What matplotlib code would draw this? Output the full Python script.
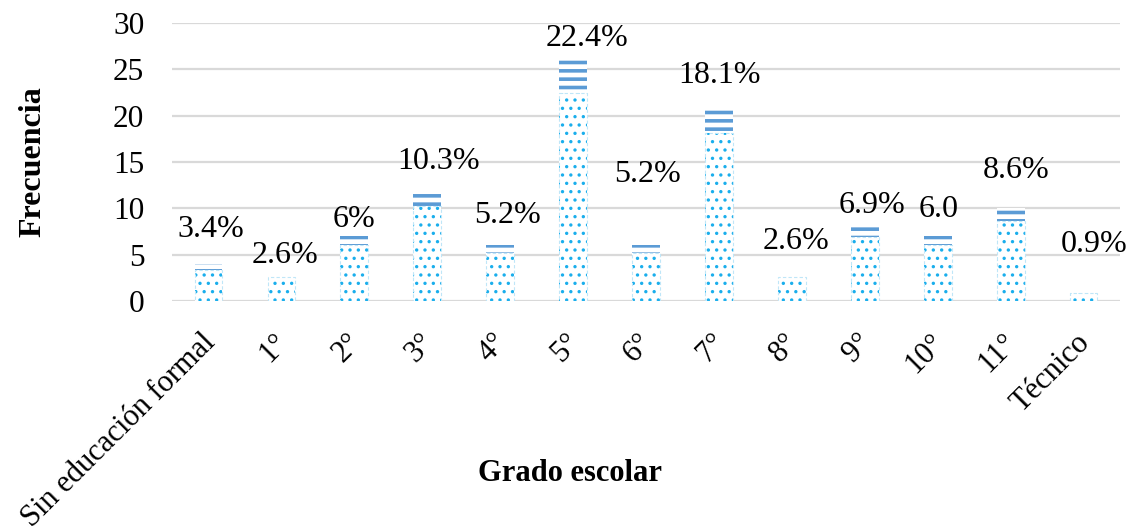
import matplotlib
matplotlib.use("Agg")
import matplotlib.pyplot as plt
import matplotlib.transforms as mtransforms
import numpy as np

# Data: school grade distribution (n = 116)
grados = ["Sin educación formal", "1°", "2°", "3°", "4°", "5°", "6°",
          "7°", "8°", "9°", "10°", "11°", "Técnico"]
frecuencia = [4, 3, 7, 12, 6, 26, 6, 21, 3, 8, 7, 10, 1]
porcentaje = [3.4, 2.6, 6.0, 10.3, 5.2, 22.4, 5.2, 18.1, 2.6, 6.9, 6.0, 8.6, 0.9]
etiquetas = ["3.4%", "2.6%", "6%", "10.3%", "5.2%", "22.4%", "5.2%",
             "18.1%", "2.6%", "6.9%", "6.0", "8.6%", "0.9%"]

# where each percentage label sits (baseline, in axis units) and its x shift
etiq_y = [6.9, 4.1, 8.0, 14.2, 8.4, 27.5, 12.8, 23.5, 5.6, 9.5, 9.1, 13.3, 5.3]
etiq_dx = [0.03, 0.05, 0.0, 0.15, 0.1, 0.19, 0.02, 0.01, 0.05, 0.1, 0.01, 0.08, 0.14]

plt.rcParams["font.family"] = ["Liberation Serif", "DejaVu Serif"]

fig = plt.figure(figsize=(11.34, 5.31), dpi=100)
ax = fig.add_axes([0.1517, 0.4331, 0.836, 0.5236])

x = np.arange(len(grados))
ancho = 0.38

# frequency bars: wide horizontal stripes
with plt.rc_context({"hatch.linewidth": 2.6}):
    b1 = ax.bar(x, frecuencia, width=ancho, color="white", edgecolor="#5B9BD5",
                linewidth=0, hatch="--", zorder=2)
for p in b1:
    if hasattr(p, "set_hatch_linewidth"):
        p.set_hatch_linewidth(2.6)

# percentage bars in front: small dots
with plt.rc_context({"hatch.linewidth": 1.2}):
    b2 = ax.bar(x, porcentaje, width=ancho, color="white", edgecolor="#1AAEEC",
                linewidth=0, hatch="..", zorder=3)
for p in b2:
    if hasattr(p, "set_hatch_linewidth"):
        p.set_hatch_linewidth(1.2)
ax.bar(x, porcentaje, width=ancho, fill=False, edgecolor="#BFE6F8",
       linewidth=0.8, linestyle=(0, (3, 2)), zorder=4)

for xi, dx, yy, t in zip(x, etiq_dx, etiq_y, etiquetas):
    ax.text(xi + dx, yy, t, ha="center", va="baseline", fontsize=23, zorder=5)

ax.set_xlim(-0.5, len(grados) - 0.5)
ax.set_ylim(0, 30)
ax.set_yticks(range(0, 31, 5))
ax.yaxis.grid(True, color="#D9D9D9", linewidth=1.6, zorder=0)
ax.set_axisbelow(True)
for s in ax.spines.values():
    s.set_visible(False)
ax.tick_params(axis="both", length=0)
ax.tick_params(axis="y", pad=20, labelsize=22.5)
ax.set_xticks(x)
ax.set_xticklabels(grados, rotation=45, ha="right", va="top",
                   rotation_mode="anchor")
ax.tick_params(axis="x", pad=16, labelsize=22)

# nudge the slanted category labels a little down and left
shift = mtransforms.ScaledTranslation(-0.08, -0.05, fig.dpi_scale_trans)
for lab in ax.get_xticklabels():
    lab.set_transform(lab.get_transform() + shift)

fig.text(0.029, 0.695, "Frecuencia", rotation=90, ha="center", va="center",
         fontsize=23, fontweight="bold")
fig.text(0.503, 0.108, "Grado escolar", ha="center", va="center",
         fontsize=22, fontweight="bold")

fig.savefig("out.png", dpi=100)
